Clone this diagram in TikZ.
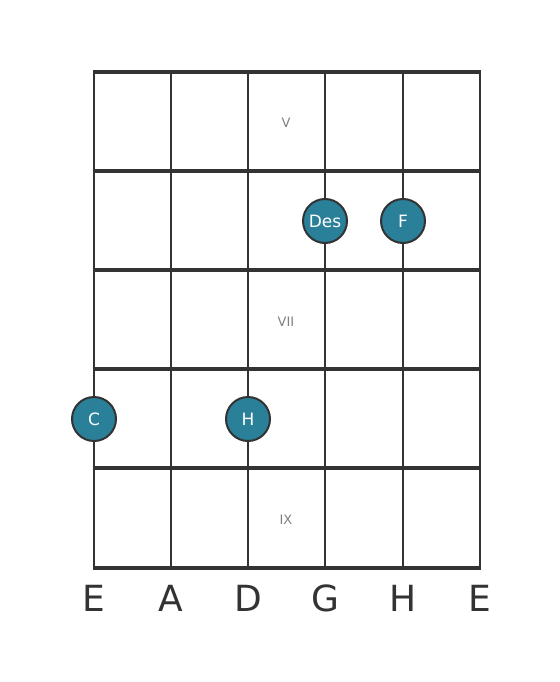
\documentclass[tikz,border=0pt]{standalone}
\usepackage{fontspec}
\setmainfont{DejaVu Sans}
\usepackage{tikz}
\definecolor{ink}{HTML}{333333}
\definecolor{note}{HTML}{2A7F99}
\tikzset{
	fret/.style={ink,line width=4.5bp},
	string/.style={ink,line width=2.8bp},
	dot/.style={circle,draw=ink,line width=2bp,fill=note,minimum size=44bp,inner sep=0pt,text=white,font=\fontsize{17bp}{17bp}\selectfont},
	fretmark/.style={text=gray,font=\fontsize{13bp}{13bp}\selectfont},
	tuning/.style={text=ink,font=\fontsize{36bp}{36bp}\selectfont}
}

\begin{document}
\begin{tikzpicture}[x=1bp,y=-1bp]
	\useasboundingbox[fill=white] (0,0) rectangle (560,682);
	% strings
	\draw[string] (94,72) -- (94,568);
	\draw[string] (171,72) -- (171,568);
	\draw[string] (248,72) -- (248,568);
	\draw[string] (325,72) -- (325,568);
	\draw[string] (403,72) -- (403,568);
	\draw[string] (480,72) -- (480,568);
	% frets
	\draw[fret] (92.6,72) -- (481.4,72);
	\draw[fret] (92.6,171) -- (481.4,171);
	\draw[fret] (92.6,270) -- (481.4,270);
	\draw[fret] (92.6,369) -- (481.4,369);
	\draw[fret] (92.6,468) -- (481.4,468);
	\draw[fret] (92.6,568) -- (481.4,568);
	% position marks
	\node[fretmark] (v) at (286,123) {V};
	\node[fretmark] (vii) at (286,322) {VII};
	\node[fretmark] (ix) at (286,520) {IX};
	% notes
	\node[dot] (des) at (325,221) {Des};
	\node[dot] (f) at (403,221) {F};
	\node[dot] (c) at (94,419) {C};
	\node[dot] (h) at (248,419) {H};
	% tuning
	\node[tuning] (s1) at (94,598) {E};
	\node[tuning] (s2) at (171,598) {A};
	\node[tuning] (s3) at (248,598) {D};
	\node[tuning] (s4) at (325,598) {G};
	\node[tuning] (s5) at (403,598) {H};
	\node[tuning] (s6) at (480,598) {E};
\end{tikzpicture}
\end{document}
